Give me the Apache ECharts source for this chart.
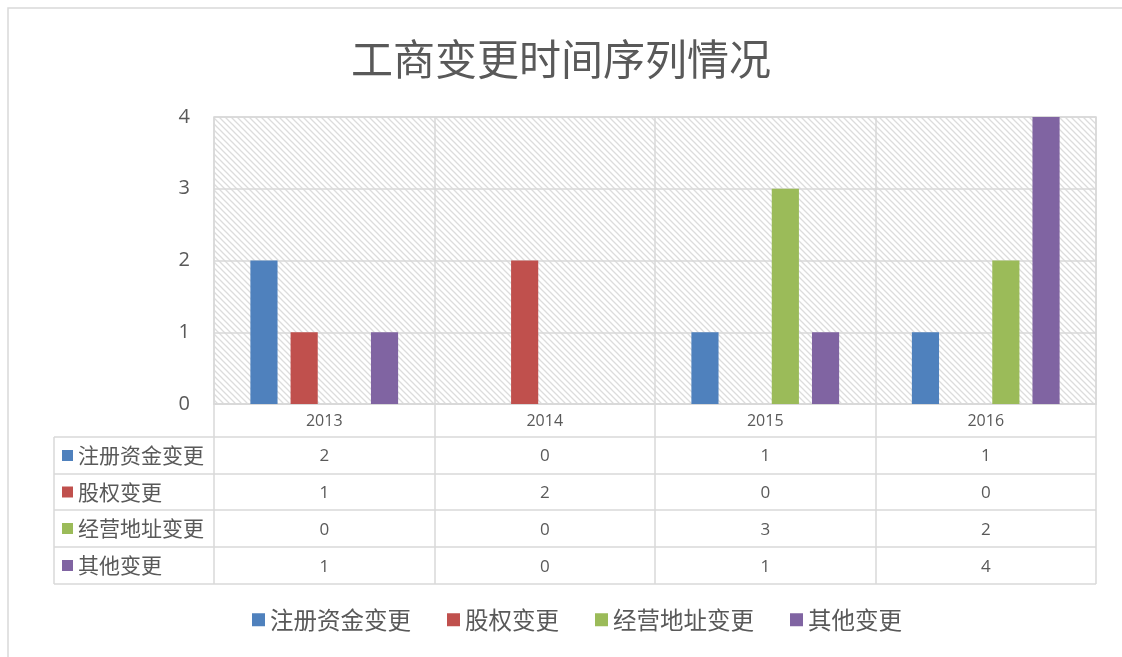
<!DOCTYPE html>
<html>
<head>
<meta charset="utf-8">
<script src="https://cdn.jsdelivr.net/npm/echarts@6/dist/echarts.min.js"></script>
<style>
  html, body { margin: 0; padding: 0; background: #fff; }
  #chart { width: 1122px; height: 657px; }
</style>
</head>
<body>
<div id="chart"></div>
<script>
const years = ["2013", "2014", "2015", "2016"];
const seriesNames = ["注册资金变更", "股权变更", "经营地址变更", "其他变更"];
const capitalChange = [2, 0, 1, 1];
const equityChange = [1, 2, 0, 0];
const addressChange = [0, 0, 3, 2];
const otherChange = [1, 0, 1, 4];
const yTicks = [0, 1, 2, 3, 4];

const allData = [capitalChange, equityChange, addressChange, otherChange];
const colors = ["#4F81BD", "#C0504D", "#9BBB59", "#8064A2"];
const gridLine = "#d9d9d9";
const textColor = "#595959";
const cjk = "'Noto Sans CJK SC', sans-serif";
const num = "'Open Sans', 'Noto Sans', sans-serif";

// 斜线底纹
const hatch = (() => {
	const s = 6;
	const c = document.createElement("canvas");
	c.width = s;
	c.height = s;
	const ctx = c.getContext("2d");
	ctx.strokeStyle = "#dcdcdc";
	ctx.lineWidth = 1.3;
	ctx.beginPath();
	ctx.moveTo(-1, -1); ctx.lineTo(s + 1, s + 1);
	ctx.moveTo(s - 1, -1); ctx.lineTo(s + 1, 1);
	ctx.moveTo(-1, s - 1); ctx.lineTo(1, s + 1);
	ctx.stroke();
	return c;
})();

// 数据表的行位置
const tableLeft = 54, tableRight = 1096;
const rowLines = [437, 474, 510, 547, 584];

const graphics = [
	{
		type: "rect", silent: true, z: -10,
		shape: { x: 8, y: 8, width: 1200, height: 700 },
		style: { fill: "none", stroke: gridLine, lineWidth: 1.5 },
	},
	{
		type: "line", silent: true,
		shape: { x1: tableLeft, y1: rowLines[0], x2: tableLeft, y2: rowLines[rowLines.length - 1] },
		style: { stroke: gridLine, lineWidth: 1.5 },
	},
];
rowLines.forEach((y) => {
	graphics.push({
		type: "line", silent: true,
		shape: { x1: tableLeft, y1: y, x2: tableRight, y2: y },
		style: { stroke: gridLine, lineWidth: 1.5 },
	});
});
seriesNames.forEach((name, i) => {
	const mid = (rowLines[i] + rowLines[i + 1]) / 2;
	graphics.push({
		type: "rect", silent: true,
		shape: { x: 62, y: mid - 5.5, width: 11, height: 11 },
		style: { fill: colors[i] },
	});
	graphics.push({
		type: "text", silent: true,
		x: 78, y: mid,
		style: { text: name, fill: textColor, font: "21px " + cjk, verticalAlign: "middle" },
	});
});

const chart = echarts.init(document.getElementById("chart"));
chart.setOption({
	color: colors,
	animation: false,
	title: {
		text: "工商变更时间序列情况",
		left: "center",
		top: 33,
		textStyle: { fontFamily: cjk, fontSize: 42, fontWeight: "normal", color: textColor },
	},
	grid: {
		left: 214, right: 26, top: 117, bottom: 253,
		show: true,
		backgroundColor: { image: hatch, repeat: "repeat" },
		borderColor: gridLine,
		borderWidth: 1.5,
	},
	legend: {
		top: 603,
		left: 247,
		itemWidth: 13,
		itemHeight: 13,
		itemGap: 36,
		icon: "rect",
		textStyle: { fontFamily: cjk, fontSize: 23.5, color: textColor },
		data: seriesNames,
	},
	xAxis: {
		type: "category",
		data: years,
		axisLine: { show: true, lineStyle: { color: gridLine, width: 1.5 } },
		axisTick: { show: true, length: 180, lineStyle: { color: gridLine, width: 1.5 } },
		splitLine: { show: true, lineStyle: { color: gridLine, width: 1.5 } },
		axisLabel: {
			interval: 0,
			margin: 0,
			formatter: (v, idx) => {
				const rows = allData.map((d) => "{v|" + d[idx] + "}");
				return ["{y|" + v + "}"].concat(rows).join("\n");
			},
			rich: {
				y: { fontFamily: num, fontSize: 16, color: textColor, lineHeight: 34 },
				v: { fontFamily: num, fontSize: 17, color: textColor, lineHeight: 36.8 },
			},
		},
	},
	yAxis: {
		type: "value",
		min: yTicks[0],
		max: yTicks[yTicks.length - 1],
		interval: 1,
		axisLine: { show: false },
		axisTick: { show: false },
		splitLine: { show: true, lineStyle: { color: gridLine, width: 1.5 } },
		axisLabel: { margin: 24, fontFamily: num, fontSize: 20, color: textColor },
	},
	series: seriesNames.map((name, i) => ({
		name: name,
		type: "bar",
		data: allData[i],
		barGap: "48%",
		barCategoryGap: "33%",
	})),
	graphic: graphics,
});
</script>
</body>
</html>
